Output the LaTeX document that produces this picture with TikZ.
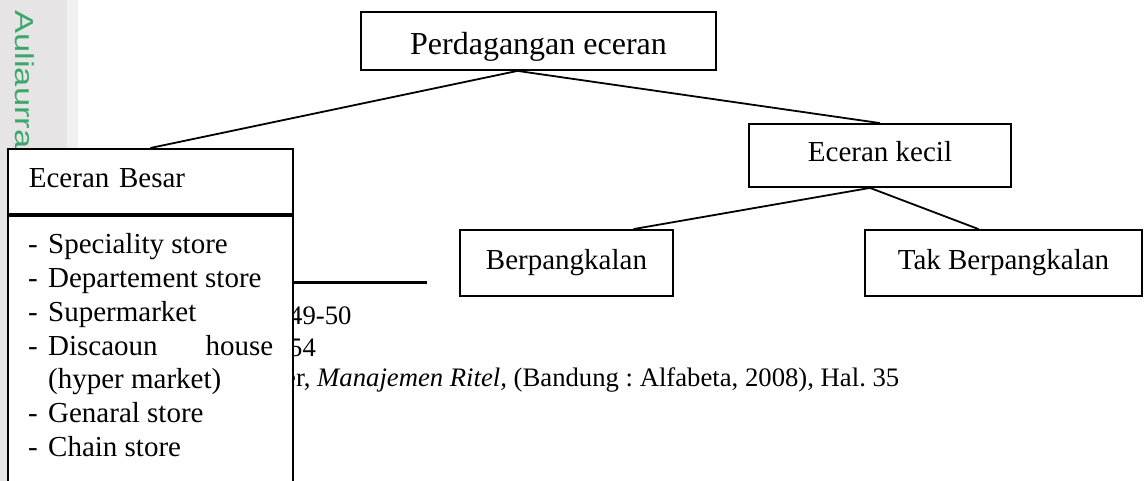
\documentclass[tikz,border=0pt]{standalone}
\usepackage{graphicx}
\usepackage{fontspec}
\setmainfont{Liberation Serif}
\newfontfamily\wmfont{Liberation Sans}
\frenchspacing

\definecolor{stripgray}{RGB}{231,228,229}
\definecolor{stripedge}{RGB}{240,240,240}
\definecolor{wmgreen}{RGB}{58,168,108}

\newcommand\boxfont{\fontsize{29}{33.7}\selectfont}
\newcommand\titlefont{\fontsize{32}{38}\selectfont}
\newcommand\notefont{\fontsize{26.7}{31}\selectfont}

\tikzset{
    box/.style={draw,line width=1.8pt,fill=white,inner sep=0pt,font=\boxfont,text height=20pt,text depth=7pt},
    link/.style={line width=1.8pt},
    note/.style={anchor=base west,inner sep=0pt,font=\notefont}
}

\begin{document}
\begin{tikzpicture}[x=1pt,y=-1pt]
    \useasboundingbox (0,0) rectangle (1144,481);
    \clip (0,0) rectangle (1144,481);
    \fill[white] (0,0) rectangle (1144,481);
    % scanned margin on the left
    \fill[stripgray] (0,0) rectangle (67,481);
    \fill[stripedge] (67,0) rectangle (78,481);
    \node[anchor=base west,inner sep=0pt,rotate=-90,text=wmgreen,font=\wmfont\fontsize{26}{30}\selectfont] (mark) at (16,10) {\scalebox{1.33}[1]{Auliaurra}};
    % footnotes behind the chart
    \draw[line width=3pt] (200,283) -- (427,283);
    \node[note] (fn1) at (289,324) {49-50};
    \node[note] (fn2) at (289,356) {54};
    \node[note] (fn3) at (284,386) {er, \textit{Manajemen Ritel,} (Bandung : Alfabeta, 2008), Hal. 35};
    % chart
    \node[box,minimum width=355pt,minimum height=58pt,font=\titlefont,text height=28pt,text depth=0pt] (perdag) at (538.5,41) {Perdagangan eceran};
    \node[box,minimum width=262pt,minimum height=63pt] (kecil) at (880,155.5) {Eceran kecil};
    \node[box,minimum width=213pt,minimum height=66pt] (berp) at (566.5,263) {Berpangkalan};
    \node[box,minimum width=277pt,minimum height=66pt] (takb) at (1003.5,263) {Tak Berpangkalan};
    \node[box,anchor=north west,minimum height=65pt,text width=243pt,inner xsep=21pt,align=left] (besar) at (7,148) {Eceran Besar};
    \node[box,anchor=north west,minimum width=285pt,minimum height=300pt] (besarlist) at (besar.south west) {};
    \node[anchor=base west,inner sep=0pt,font=\boxfont] (items) at (28,254) {\begin{tabular}[t]{@{}p{20pt}@{}l@{}}
        - & Speciality store\\
        - & Departement store\\
        - & Supermarket\\
        - & \hbox to 225pt{Discaoun\hfill house}\\
          & (hyper market)\\
        - & Genaral store\\
        - & Chain store
    \end{tabular}};
    \draw[link] ([xshift=-21pt]perdag.south) -- (besar.north);
    \draw[link] ([xshift=-21pt]perdag.south) -- (kecil.north);
    \draw[link] ([xshift=-10pt]kecil.south) -- ([xshift=67pt]berp.north);
    \draw[link] ([xshift=-10pt]kecil.south) -- ([xshift=-25pt]takb.north);
\end{tikzpicture}
\end{document}
